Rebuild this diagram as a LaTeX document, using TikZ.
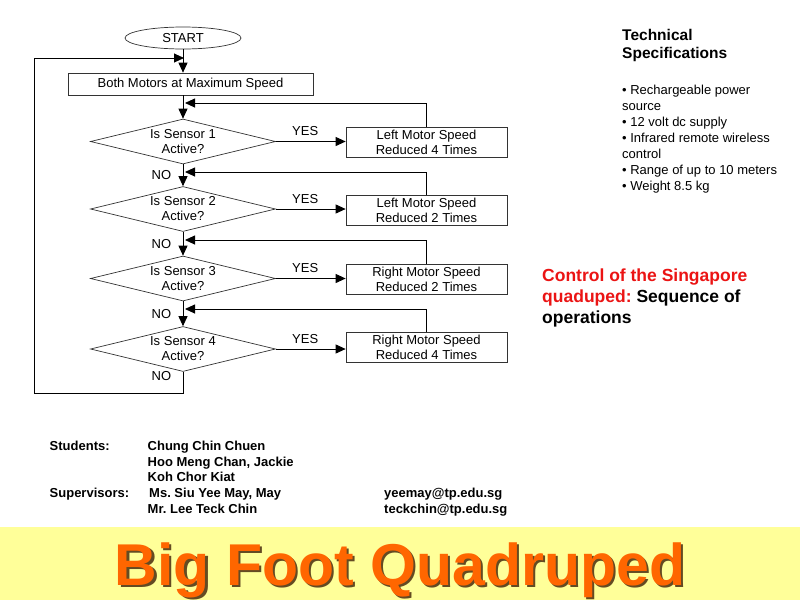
\documentclass[tikz,border=0pt]{standalone}
\usepackage{fontspec}
\setmainfont{Liberation Sans}
\usepackage{xcolor}
\usepackage{tikz}
\usetikzlibrary{shapes.geometric, arrows.meta}

\definecolor{bandyellow}{RGB}{255,255,153}
\definecolor{titleorange}{RGB}{255,102,0}
\definecolor{titleshade}{RGB}{100,75,35}
\definecolor{headred}{RGB}{235,20,20}

\tikzset{
    flowtext/.style={font=\fontsize{13}{15}\selectfont, align=center},
    process/.style={draw=black!80, line width=0.7pt, rectangle, flowtext, inner sep=0pt},
    decision/.style={draw=black!80, line width=0.7pt, diamond, aspect=4, flowtext, inner sep=0pt,
        minimum width=185pt, minimum height=45pt},
    startstop/.style={draw=black!80, line width=0.7pt, ellipse, flowtext, inner sep=0pt,
        minimum width=116pt, minimum height=22pt},
    arr/.style={-{Triangle[length=10pt, width=9pt]}, line width=0.9pt},
    spec/.style={anchor=base west, inner sep=0pt, font=\fontsize{13}{16}\selectfont},
    credit/.style={anchor=base west, inner sep=0pt, font=\bfseries\fontsize{13}{16}\selectfont},
}

\begin{document}
\frenchspacing
\begin{tikzpicture}[x=1pt, y=-1pt]
    \useasboundingbox (0,0) rectangle (800,600);
    \fill[white] (0,0) rectangle (800,600);

    % Flowchart
    \node[startstop] (start) at (183,38) {START};
    \node[process, minimum width=245pt, minimum height=22pt] (motors) at (190.5,84) {Both Motors at Maximum Speed};
    \foreach \i/\y in {1/141.5, 2/209, 3/278.5, 4/349}
        \node[decision] (d\i) at (183,\y) {Is Sensor \i\\Active?};
    \node[process, minimum width=161pt, minimum height=30pt] (r1) at (426.5,142) {Left Motor Speed\\Reduced 4 Times};
    \node[process, minimum width=161pt, minimum height=30pt] (r2) at (426.5,210.5) {Left Motor Speed\\Reduced 2 Times};
    \node[process, minimum width=161pt, minimum height=30pt] (r3) at (426.5,279) {Right Motor Speed\\Reduced 2 Times};
    \node[process, minimum width=161pt, minimum height=30pt] (r4) at (426.5,347.5) {Right Motor Speed\\Reduced 4 Times};

    % Return points
    \coordinate (fb1) at (185,103);
    \coordinate (fb2) at (185,172);
    \coordinate (fb3) at (185,240);
    \coordinate (fb4) at (185,309);
    \coordinate (loopbot) at (183,393);
    \coordinate (looptop) at (34,58);
    \coordinate (loopin) at (184,58);

    % Connectors
    \draw[arr] (start.south) -- (start.south |- motors.north);
    \draw[arr] (start |- motors.south) -- (d1.north);
    \foreach \i/\j in {1/2, 2/3, 3/4}
        \draw[arr] (d\i.south) -- node[flowtext, left=8pt] {NO} (d\j.north);
    \foreach \i in {1,...,4} {
        \draw[arr] (d\i.east) -- node[flowtext, pos=0.42, above=2pt] {YES} (d\i.east -| r\i.west);
        \draw[arr] (r\i.north) |- (fb\i);
    }
    \draw[arr] (d4.south) -- node[flowtext, pos=0.19, left=8pt] {NO} (loopbot) -| (looptop) -- (loopin);

    % Technical specifications
    \node[anchor=base west, inner sep=0pt, font=\bfseries\fontsize{15.5}{17.5}\selectfont] (spechead1) at (622,40.5) {Technical};
    \node[anchor=base west, inner sep=0pt, font=\bfseries\fontsize{15.5}{17.5}\selectfont] (spechead2) at (622,58) {Specifications};
    \foreach \txt [count=\k from 0] in {{• Rechargeable power}, {source}, {• 12 volt dc supply},
        {• Infrared remote wireless}, {control}, {• Range of up to 10 meters}, {• Weight 8.5 kg}}
        \node[spec] (spec\k) at (622,94+16*\k) {\txt};

    % Caption
    \node[anchor=base west, inner sep=0pt, font=\bfseries\fontsize{17.5}{21}\selectfont, text=headred] (cap1) at (542,281.5) {Control of the Singapore};
    \node[anchor=base west, inner sep=0pt, font=\bfseries\fontsize{17.5}{21}\selectfont] (cap2) at (542,302.5) {\textcolor{headred}{quaduped:} Sequence of};
    \node[anchor=base west, inner sep=0pt, font=\bfseries\fontsize{17.5}{21}\selectfont] (cap3) at (542,323.5) {operations};

    % Credits
    \node[credit] (students) at (49.5,450.5) {Students:};
    \node[credit] (name1) at (147.5,450.5) {Chung Chin Chuen};
    \node[credit] (name2) at (147.5,466) {Hoo Meng Chan, Jackie};
    \node[credit] (name3) at (147.5,481.5) {Koh Chor Kiat};
    \node[credit] (supervisors) at (49.5,497.5) {Supervisors:};
    \node[credit] (super1) at (149,497.5) {Ms. Siu Yee May, May};
    \node[credit] (super2) at (147.5,513.5) {Mr. Lee Teck Chin};
    \node[credit] (mail1) at (384,497.5) {yeemay@tp.edu.sg};
    \node[credit] (mail2) at (384,513.5) {teckchin@tp.edu.sg};

    % Title band
    \fill[bandyellow] (0,527) rectangle (800,600);
    \node[anchor=base, inner sep=0pt, font=\bfseries\fontsize{59}{64}\selectfont, text=titleshade] (titleshadow) at (402.5,587.5) {Big Foot Quadruped};
    \node[anchor=base, inner sep=0pt, font=\bfseries\fontsize{59}{64}\selectfont, text=titleorange] (title) at (400,585) {Big Foot Quadruped};
\end{tikzpicture}
\end{document}
